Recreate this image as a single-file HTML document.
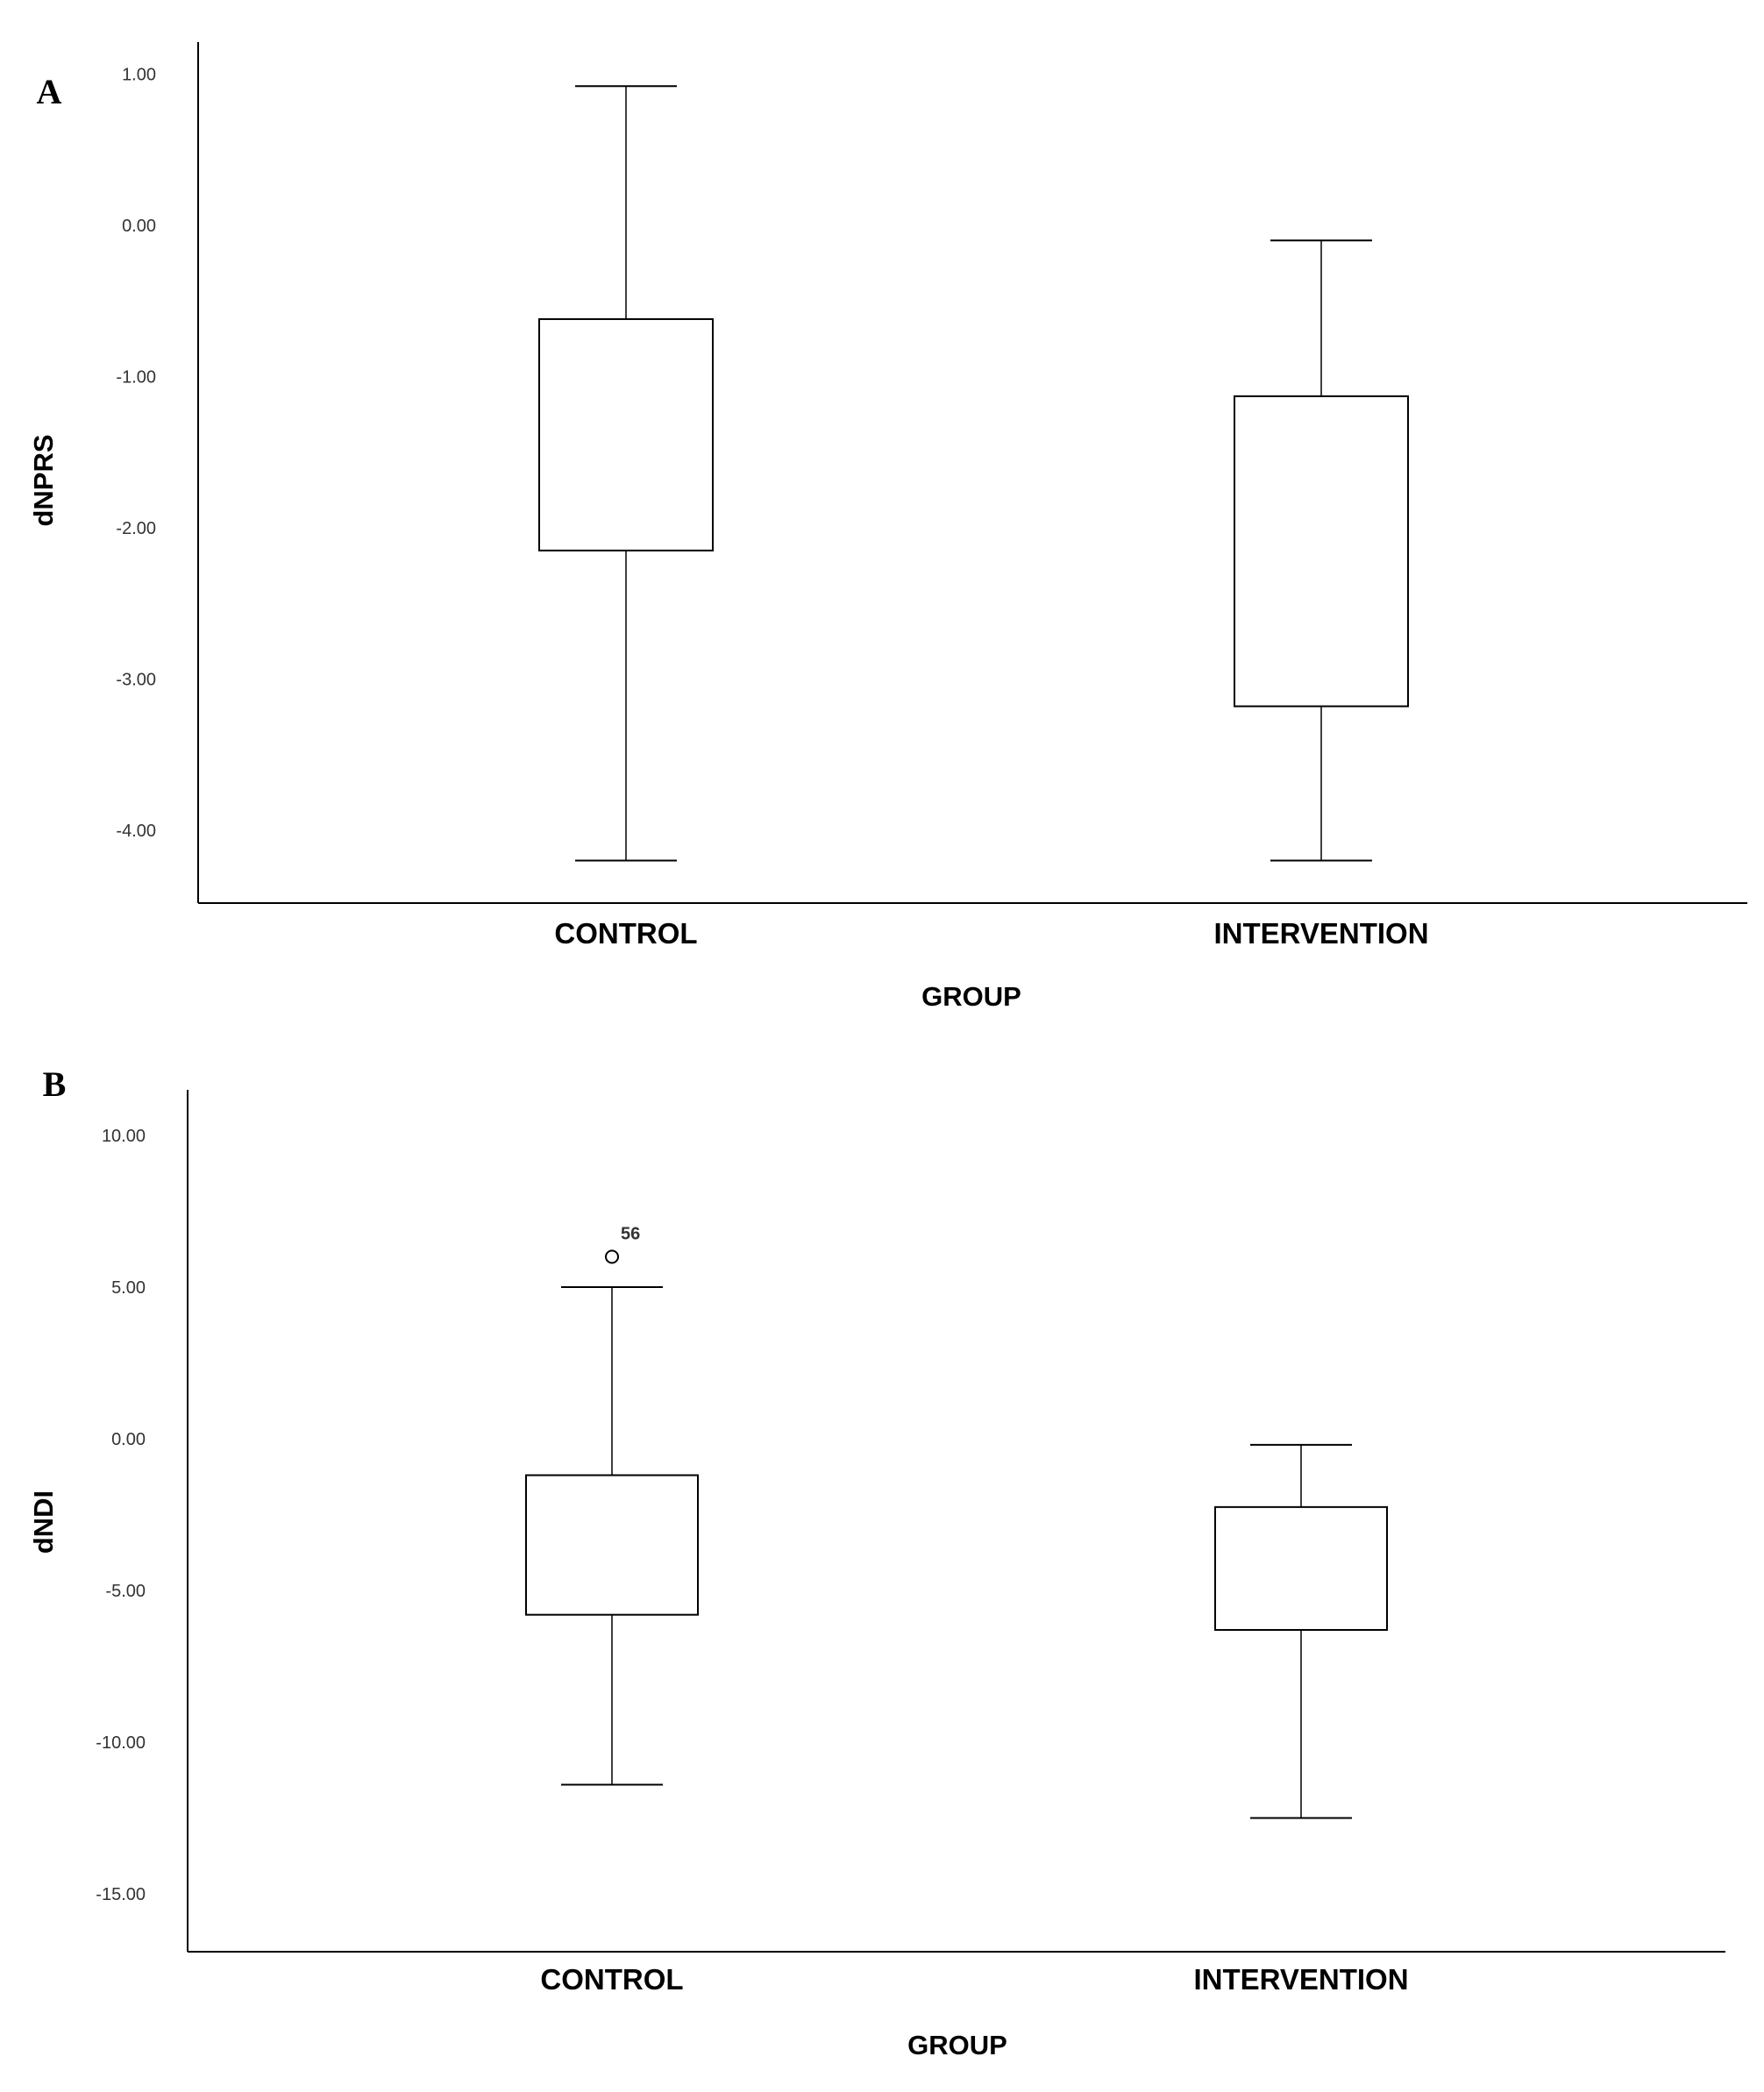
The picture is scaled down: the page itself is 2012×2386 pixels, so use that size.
<!DOCTYPE html>
<html><head><meta charset="utf-8"><style>
html,body{margin:0;padding:0;background:#fff;}
svg{display:block;}
.tk{font-family:"Liberation Sans",sans-serif;font-size:20px;fill:#333;}
.cat{font-family:"Liberation Sans",sans-serif;font-size:33px;font-weight:bold;fill:#000;}
.ttl{font-family:"Liberation Sans",sans-serif;font-size:31px;font-weight:bold;fill:#000;}
.pl{font-family:"Liberation Serif",serif;font-size:40px;font-weight:bold;fill:#000;}
</style></head><body>
<svg id="c" width="2012" height="2386" viewBox="0 0 2012 2386" xmlns="http://www.w3.org/2000/svg"></svg>
<script>
const categories = ["CONTROL", "INTERVENTION"];
// Panel A (dNPRS)
const aTicks = [1, 0, -1, -2, -3, -4];
const aTickLabels = ["1.00", "0.00", "-1.00", "-2.00", "-3.00", "-4.00"];
const aWhiskerHigh = [0.92, -0.10];
const aQ3 = [-0.62, -1.13];
const aQ1 = [-2.15, -3.18];
const aWhiskerLow = [-4.20, -4.20];
// Panel B (dNDI)
const bTicks = [10, 5, 0, -5, -10, -15];
const bTickLabels = ["10.00", "5.00", "0.00", "-5.00", "-10.00", "-15.00"];
const bWhiskerHigh = [5.0, -0.2];
const bQ3 = [-1.2, -2.25];
const bQ1 = [-5.8, -6.3];
const bWhiskerLow = [-11.4, -12.5];
const bOutliers = [6.0];
const bOutlierLabels = ["56"];

const svg = document.getElementById('c');
const NS = "http://www.w3.org/2000/svg";
function mk(tag, attrs, parent, text){
  const e = document.createElementNS(NS, tag);
  for (const k in attrs) e.setAttribute(k, attrs[k]);
  if (text !== undefined) e.textContent = text;
  (parent || svg).appendChild(e);
  return e;
}

function panel(cfg){
  const g = mk('g', {});
  
  
  const y = v => cfg.y0 + (cfg.v0 - v) * cfg.ppu;
  const ya = mk('line', {x1:cfg.axX, y1:cfg.top, x2:cfg.axX, y2:cfg.bottom, stroke:'#000', 'stroke-width':2}, g);
  
  
  const xa = mk('line', {x1:cfg.axX, y1:cfg.bottom, x2:cfg.right, y2:cfg.bottom, stroke:'#000', 'stroke-width':2}, g);
  
  
  cfg.ticks.forEach((t, i) => {
    const tl = mk('text', {x:cfg.axX - 48, y:y(t) + 7, 'text-anchor':'end', class:'tk'}, g, cfg.tickLabels[i]);
    
    
  });
  categories.forEach((c, i) => {
    const cx = cfg.cx[i], hw = cfg.boxW / 2, cw = cfg.capW / 2;
    const bg = mk('g', {}, g);
    
    
    mk('line', {x1:cx, y1:y(cfg.hi[i]), x2:cx, y2:y(cfg.q3[i]), stroke:'#000', 'stroke-width':1.5}, bg);
    mk('line', {x1:cx, y1:y(cfg.q1[i]), x2:cx, y2:y(cfg.lo[i]), stroke:'#000', 'stroke-width':1.5}, bg);
    mk('line', {x1:cx-cw, y1:y(cfg.hi[i]), x2:cx+cw, y2:y(cfg.hi[i]), stroke:'#000', 'stroke-width':2}, bg);
    mk('line', {x1:cx-cw, y1:y(cfg.lo[i]), x2:cx+cw, y2:y(cfg.lo[i]), stroke:'#000', 'stroke-width':2}, bg);
    mk('rect', {x:cx-hw, y:y(cfg.q3[i]), width:cfg.boxW, height:y(cfg.q1[i]) - y(cfg.q3[i]), fill:'#fff', stroke:'#000', 'stroke-width':2}, bg);
    const cl = mk('text', {x:cx, y:cfg.catY, 'text-anchor':'middle', class:'cat'}, g, c);
    
    
  });
  (cfg.out || []).forEach((v, i) => {
    const o = mk('circle', {cx:cfg.cx[0], cy:y(v), r:7, fill:'none', stroke:'#000', 'stroke-width':2}, g);
    
    
    const ol = mk('text', {x:cfg.cx[0] + 10, y:y(v) - 20, class:'tk', 'font-weight':'bold', fill:'#000'}, g, cfg.outLabels[i]);
    
    
  });
  const xt = mk('text', {x:cfg.groupX, y:cfg.groupY, 'text-anchor':'middle', class:'ttl'}, g, 'GROUP');
  
  
  const yt = mk('text', {x:0, y:0, 'text-anchor':'middle', class:'ttl', transform:`translate(${cfg.ytX},${cfg.ytY}) rotate(-90)`}, g, cfg.yTitle);
  
  
  const pl = mk('text', {x:cfg.plX, y:cfg.plY, class:'pl', 'text-anchor':'middle'}, g, cfg.letter);
  
  
}

panel({name:'panel-a-dnprs', axX:226, top:48, bottom:1030, right:1993, y0:257, v0:0, ppu:172.5,
  ticks:aTicks, tickLabels:aTickLabels, hi:aWhiskerHigh, q3:aQ3, q1:aQ1, lo:aWhiskerLow,
  cx:[714,1507], boxW:198, capW:116, catY:1076, groupX:1108, groupY:1147,
  yTitle:'dNPRS', ytX:60, ytY:548, letter:'A', plX:56, plY:118});
panel({name:'panel-b-dndi', axX:214, top:1243, bottom:2226, right:1968, y0:1641, v0:0, ppu:34.6,
  ticks:bTicks, tickLabels:bTickLabels, hi:bWhiskerHigh, q3:bQ3, q1:bQ1, lo:bWhiskerLow,
  out:bOutliers, outLabels:bOutlierLabels,
  cx:[698,1484], boxW:196, capW:116, catY:2269, groupX:1092, groupY:2343,
  yTitle:'dNDI', ytX:60, ytY:1736, letter:'B', plX:62, plY:1250});
</script>
</body></html>
